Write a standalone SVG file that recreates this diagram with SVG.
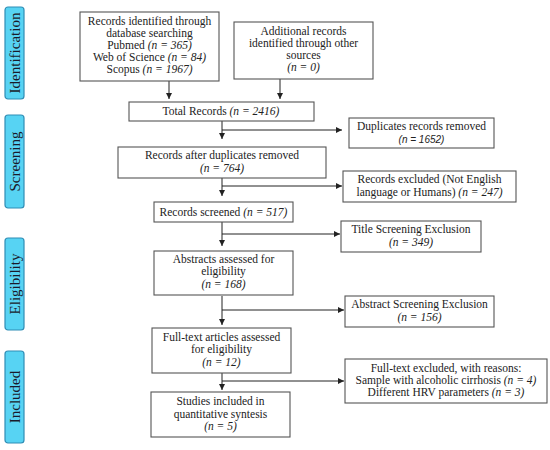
<svg xmlns="http://www.w3.org/2000/svg" width="550" height="450" viewBox="0 0 550 450">
<style>
.box{fill:#fff;stroke:#555;stroke-width:1.1}
.side{fill:#57d3f3;stroke:#2f8db5;stroke-width:1.2}
.t{font-family:"Liberation Serif","DejaVu Serif",serif;font-size:11.5px;fill:#222;text-anchor:middle}
.st{font-family:"Liberation Serif","DejaVu Serif",serif;font-size:15px;fill:#1a1a2a;text-anchor:middle}
.i{font-style:italic}
.si{font-family:"Liberation Sans","DejaVu Sans",sans-serif;font-style:italic;font-size:10px}
.c{fill:none;stroke:#222;stroke-width:1}
</style>
<defs>
<marker id="ah" viewBox="0 0 6 6" refX="6" refY="3" markerWidth="6" markerHeight="6" markerUnits="userSpaceOnUse" orient="auto">
<path d="M0,0 L6,3 L0,6 z" fill="#222"/>
</marker>
</defs>
<rect width="550" height="450" fill="#fff"/>
<g id="phases">
<g id="phase-identification"><rect class="side" x="5" y="7" width="19" height="92" rx="3"/><text class="st" transform="translate(19.5,53) rotate(-90)">Identification</text></g>
<g id="phase-screening"><rect class="side" x="5" y="115" width="19" height="93" rx="3"/><text class="st" transform="translate(19.5,161.5) rotate(-90)">Screening</text></g>
<g id="phase-eligibility"><rect class="side" x="5" y="238" width="19" height="92" rx="3"/><text class="st" transform="translate(19.5,284) rotate(-90)">Eligibility</text></g>
<g id="phase-included"><rect class="side" x="5" y="351" width="19" height="92" rx="3"/><text class="st" transform="translate(19.5,397) rotate(-90)">Included</text></g>
</g>
<g id="connectors">
<path class="c" d="M169,81 V99" marker-end="url(#ah)"/>
<path class="c" d="M280,79 V99" marker-end="url(#ah)"/>
<path class="c" d="M222,121 V139" marker-end="url(#ah)"/>
<path class="c" d="M222,130 H342" marker-end="url(#ah)"/>
<path class="c" d="M222,178 V196" marker-end="url(#ah)"/>
<path class="c" d="M222,186 H342" marker-end="url(#ah)"/>
<path class="c" d="M222,222 V246" marker-end="url(#ah)"/>
<path class="c" d="M222,234 H340" marker-end="url(#ah)"/>
<path class="c" d="M222,296 V325" marker-end="url(#ah)"/>
<path class="c" d="M222,310 H344" marker-end="url(#ah)"/>
<path class="c" d="M222,373 V390" marker-end="url(#ah)"/>
<path class="c" d="M222,381 H344" marker-end="url(#ah)"/>
</g>
<g id="n-identified"><rect class="box" x="80" y="12" width="139" height="69"/>
<text class="t" x="149.5" y="25">Records identified through</text>
<text class="t" x="149.5" y="37">database searching</text>
<text class="t" x="149.5" y="49">Pubmed <tspan class="i">(n = 365)</tspan></text>
<text class="t" x="149.5" y="61">Web of Science <tspan class="i">(n = 84)</tspan></text>
<text class="t" x="149.5" y="73">Scopus <tspan class="i">(n = 1967)</tspan></text></g>
<g id="n-additional"><rect class="box" x="234" y="22" width="139" height="57"/>
<text class="t" x="303.5" y="35">Additional records</text>
<text class="t" x="303.5" y="47">identified through other</text>
<text class="t" x="303.5" y="59">sources</text>
<text class="t i" x="303.5" y="71">(n = 0)</text></g>
<g id="n-total"><rect class="box" x="129" y="102" width="185" height="19"/>
<text class="t" x="221" y="115">Total Records <tspan class="i">(n = 2416)</tspan></text></g>
<g id="n-duplicates"><rect class="box" x="349" y="118" width="145" height="30"/>
<text class="t" x="421.5" y="130">Duplicates records removed</text>
<text class="t si" x="421.5" y="143">(n = 1652)</text></g>
<g id="n-after"><rect class="box" x="118" y="147" width="208" height="31"/>
<text class="t" x="222" y="159">Records after duplicates removed</text>
<text class="t i" x="222" y="172">(n = 764)</text></g>
<g id="n-excluded"><rect class="box" x="343" y="171" width="173" height="31"/>
<text class="t" x="429.5" y="183">Records excluded (Not English</text>
<text class="t" x="429.5" y="196">language or Humans) <tspan class="i">(n = 247)</tspan></text></g>
<g id="n-screened"><rect class="box" x="154" y="202" width="139" height="20"/>
<text class="t" x="223.5" y="216">Records screened <tspan class="i">(n = 517)</tspan></text></g>
<g id="n-title"><rect class="box" x="341" y="221" width="140" height="31"/>
<text class="t" x="411" y="233">Title Screening Exclusion</text>
<text class="t i" x="411" y="246">(n = 349)</text></g>
<g id="n-abstracts"><rect class="box" x="154" y="251" width="139" height="44"/>
<text class="t" x="223.5" y="263">Abstracts assessed for</text>
<text class="t" x="223.5" y="275">eligibility</text>
<text class="t i" x="223.5" y="288">(n = 168)</text></g>
<g id="n-abstract-excl"><rect class="box" x="345" y="296" width="149" height="31"/>
<text class="t" x="419.5" y="308">Abstract Screening Exclusion</text>
<text class="t i" x="419.5" y="321">(n = 156)</text></g>
<g id="n-fulltext"><rect class="box" x="152" y="328" width="139" height="45"/>
<text class="t" x="221.5" y="341">Full-text articles assessed</text>
<text class="t" x="221.5" y="353">for eligibility</text>
<text class="t i" x="221.5" y="366">(n = 12)</text></g>
<g id="n-fulltext-excl"><rect class="box" x="345" y="359" width="202" height="44"/>
<text class="t" x="446" y="372">Full-text excluded, with reasons:</text>
<text class="t" x="446" y="384">Sample with alcoholic cirrhosis <tspan class="i">(n = 4)</tspan></text>
<text class="t" x="446" y="396">Different HRV parameters <tspan class="i">(n = 3)</tspan></text></g>
<g id="n-studies"><rect class="box" x="151" y="392" width="139" height="45"/>
<text class="t" x="220.5" y="405">Studies included in</text>
<text class="t" x="220.5" y="418">quantitative syntesis</text>
<text class="t i" x="220.5" y="430">(n = 5)</text></g>
</svg>
